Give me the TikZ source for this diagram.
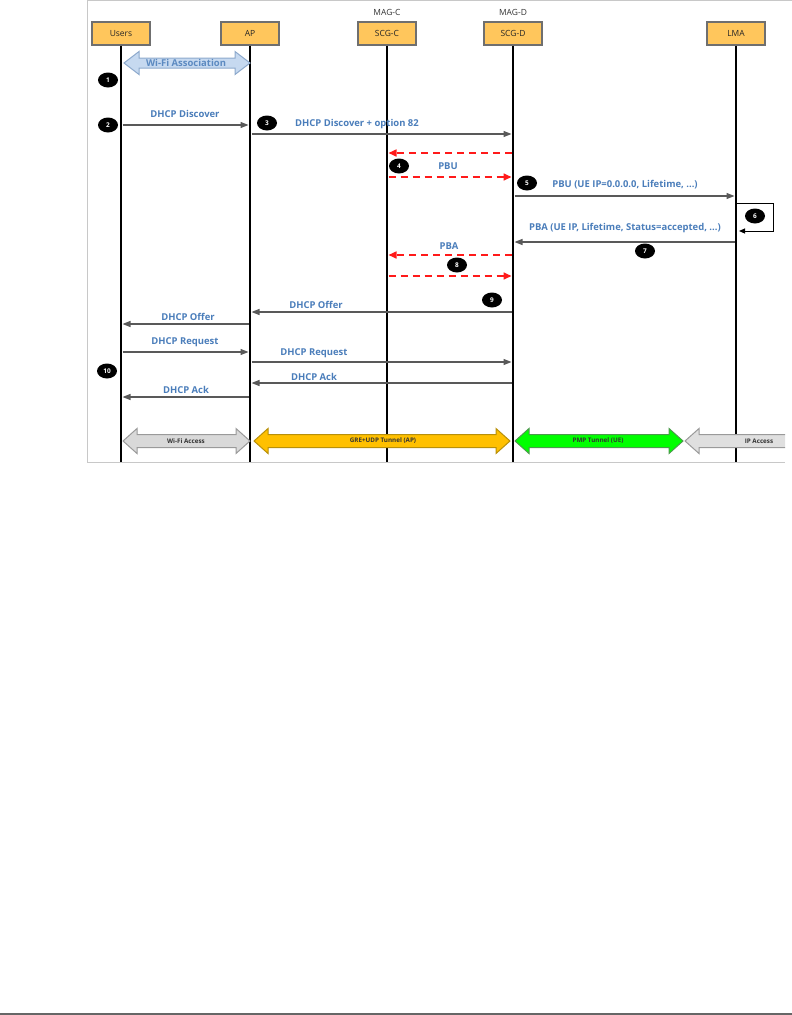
\documentclass[tikz,border=0pt]{standalone}
\usepackage{fontspec}
\setmainfont{Open Sans}
\usetikzlibrary{arrows.meta,shapes.geometric}
\definecolor{boxfill}{HTML}{FFC65C}
\definecolor{boxline}{HTML}{6F6F6F}
\definecolor{lbl}{HTML}{4A7DBA}
\definecolor{msgline}{HTML}{595959}
\definecolor{dashred}{HTML}{FF1A1A}
\definecolor{wifiblue}{HTML}{C6D9F0}
\definecolor{wifiborder}{HTML}{8DA9CC}
\definecolor{accgray}{HTML}{D9D9D9}
\definecolor{accborder}{HTML}{9A9A9A}
\definecolor{greorange}{HTML}{FFC000}
\definecolor{greborder}{HTML}{B8900A}
\definecolor{pmpgreen}{HTML}{00FF00}
\definecolor{pmpborder}{HTML}{4C9A4C}
\definecolor{framegray}{HTML}{C8C8C8}
\newcommand\dblarrowpath[6]{%
  (#1,#3) -- ({#1+#4},{#3-#5}) -- ({#1+#4},{#3-#6}) -- ({#2-#4},{#3-#6}) -- ({#2-#4},{#3-#5}) -- (#2,#3)
  -- ({#2-#4},{#3+#5}) -- ({#2-#4},{#3+#6}) -- ({#1+#4},{#3+#6}) -- ({#1+#4},{#3+#5}) -- cycle}
\begin{document}
\begin{tikzpicture}[x=1bp,y=-1bp,
  entity/.style={draw=boxline,line width=1.2bp,fill=boxfill,minimum width=58bp,minimum height=23bp,inner sep=0pt,font=\fontsize{8.5}{10}\selectfont,text=black!85},
  magtag/.style={font=\fontsize{8.5}{10}\selectfont,text=black!80,inner sep=0pt},
  lifeline/.style={line width=2.6bp,black},
  msg/.style={draw=msgline,line width=1.3bp,shorten >=1.5bp,shorten <=1.5bp,-{Triangle[length=8bp,width=6bp]}},
  redmsg/.style={draw=dashred,line width=1.6bp,dash pattern=on 7bp off 5bp,shorten >=1.5bp,shorten <=1.5bp,-{Triangle[length=8bp,width=7bp]}},
  lab/.style={font=\bfseries\fontsize{9.5}{11}\selectfont,text=lbl,inner sep=0pt},
  num/.style={ellipse,fill=black,text=white,minimum width=20bp,minimum height=15bp,inner sep=0pt,font=\bfseries\fontsize{6.5}{8}\selectfont},
  tiny/.style={font=\bfseries\fontsize{6.3}{7}\selectfont,text=black!80,inner sep=0pt}]
\useasboundingbox (0,0) rectangle (792,1015);
% frame
\draw[framegray,line width=1bp] (87,462) -- (87,0.5) -- (792,0.5);
\draw[framegray,line width=1bp] (87,462) -- (785,462);
% bottom page rule
\draw[black!60,line width=2bp] (0,1013.5) -- (792,1013.5);
% entities
\node[entity] (users) at (121,33.5) {Users};
\node[entity] (ap) at (250,33.5) {AP};
\node[entity] (scgc) at (387,33.5) {SCG-C};
\node[entity] (scgd) at (513,33.5) {SCG-D};
\node[entity] (lma) at (736,33.5) {LMA};
\node[magtag] (magc) at (387,12) {MAG-C};
\node[magtag] (magd) at (513,12) {MAG-D};
% lifeline ends
\coordinate (usersEnd) at (121,462);
\coordinate (apEnd) at (250,462);
\coordinate (scgcEnd) at (387,462);
\coordinate (scgdEnd) at (513,462);
\coordinate (lmaEnd) at (736,462);
% y levels
\coordinate (yDisc) at (0,125);
\coordinate (yDisc82) at (0,134);
\coordinate (yPbuR) at (0,153);
\coordinate (yPbuR2) at (0,177);
\coordinate (yPbu) at (0,196);
\coordinate (yPba) at (0,242);
\coordinate (yPbaR) at (0,255);
\coordinate (yPbaR2) at (0,276);
\coordinate (yOff1) at (0,312);
\coordinate (yOff2) at (0,324);
\coordinate (yReq1) at (0,352);
\coordinate (yReq2) at (0,362);
\coordinate (yAck1) at (0,383);
\coordinate (yAck2) at (0,397);
\coordinate (loopA) at (773,203);
\coordinate (loopB) at (773,231);
% lifelines
\draw[lifeline] (users.south) -- (usersEnd);
\draw[lifeline] (ap.south) -- (apEnd);
\draw[lifeline] (scgc.south) -- (scgcEnd);
\draw[lifeline] (scgd.south) -- (scgdEnd);
\draw[lifeline] (lma.south) -- (lmaEnd);
% big arrows
\begin{scope}
\clip (87,0) rectangle (785,462);
\draw[wifiborder,fill=wifiblue,line width=1bp] \dblarrowpath{124}{250}{63}{15}{11.5}{5};
\draw[accborder,fill=accgray,line width=1bp] \dblarrowpath{123}{250}{441}{14}{12.5}{6.5};
\draw[greborder,fill=greorange,line width=1bp] \dblarrowpath{254}{510}{441}{14}{12.5}{6.5};
\draw[pmpborder,fill=pmpgreen,line width=1bp] \dblarrowpath{515}{683}{441}{14}{12.5}{6.5};
\draw[accborder,fill=accgray!85,line width=1bp] \dblarrowpath{685}{900}{441}{14}{12.5}{6.5};
\end{scope}
% big arrow labels
\node[font=\bfseries\fontsize{9.5}{11}\selectfont,text=lbl!90,inner sep=0pt] (wifiassoc) at (186,63) {Wi-Fi Association};
\node[tiny] (wifiacc) at (186,441) {Wi-Fi Access};
\node[tiny] (gre) at (383,441) {GRE+UDP Tunnel (AP)};
\node[tiny] (pmp) at (598,441) {PMP Tunnel (UE)};
\node[tiny] (ipacc) at (759,441) {IP Access};
% messages
\draw[msg] (users |- yDisc) -- (ap |- yDisc);
\node[lab] (lDisc) at (185,114) {DHCP Discover};
\draw[msg] (ap |- yDisc82) -- (scgd |- yDisc82);
\node[lab] (lDisc82) at (357,124) {DHCP Discover + option 82};
\draw[redmsg] (scgd |- yPbuR) -- (scgc |- yPbuR);
\node[lab] (lPbuR) at (448,166) {PBU};
\draw[redmsg] (scgc |- yPbuR2) -- (scgd |- yPbuR2);
\draw[msg] (scgd |- yPbu) -- (lma |- yPbu);
\node[lab] (lPbu) at (625,185) {PBU (UE IP=0.0.0.0, Lifetime, ...)};
\draw[black,line width=1bp,-{Triangle[length=6bp,width=5bp]}] (lma |- loopA) -- (loopA) -- (loopB) -- ([xshift=3bp]lma |- loopB);
\node[lab] (lPba) at (625,228) {PBA (UE IP, Lifetime, Status=accepted, ...)};
\draw[msg] (lma |- yPba) -- (scgd |- yPba);
\node[lab] (lPbaR) at (449,246) {PBA};
\draw[redmsg] (scgd |- yPbaR) -- (scgc |- yPbaR);
\draw[redmsg] (scgc |- yPbaR2) -- (scgd |- yPbaR2);
\draw[msg] (scgd |- yOff1) -- (ap |- yOff1);
\node[lab] (lOff1) at (316,305) {DHCP Offer};
\draw[msg] (ap |- yOff2) -- (users |- yOff2);
\node[lab] (lOff2) at (188,317) {DHCP Offer};
\draw[msg] (users |- yReq1) -- (ap |- yReq1);
\node[lab] (lReq1) at (185,342) {DHCP Request};
\draw[msg] (ap |- yReq2) -- (scgd |- yReq2);
\node[lab] (lReq2) at (314,353) {DHCP Request};
\draw[msg] (scgd |- yAck1) -- (ap |- yAck1);
\node[lab] (lAck1) at (314,377) {DHCP Ack};
\draw[msg] (ap |- yAck2) -- (users |- yAck2);
\node[lab] (lAck2) at (186,390) {DHCP Ack};
% step numbers
\node[num] (n1) at (108,80) {1};
\node[num] (n2) at (108,125) {2};
\node[num] (n3) at (267,123) {3};
\node[num] (n4) at (399,166) {4};
\node[num] (n5) at (527,183) {5};
\node[num] (n6) at (755,216) {6};
\node[num] (n7) at (645,251) {7};
\node[num] (n8) at (457,265) {8};
\node[num] (n9) at (492,300) {9};
\node[num] (n10) at (107,371) {10};
\end{tikzpicture}
\end{document}
